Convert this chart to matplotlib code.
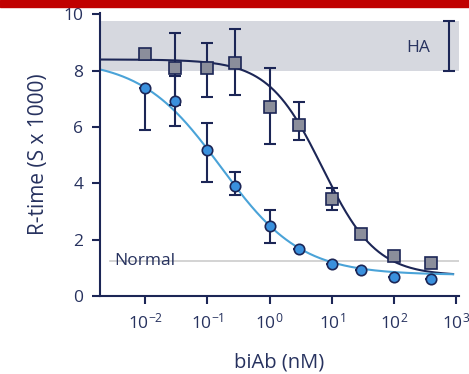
import numpy as np
import matplotlib
matplotlib.use("Agg")
import matplotlib.pyplot as plt
from matplotlib.patches import Rectangle

plt.rcParams['font.family'] = ['Open Sans', 'DejaVu Sans']

# ---- data ----
conc_sq = [0.01, 0.03, 0.1, 0.28, 1.0, 3.0, 10.0, 30.0, 100.0, 400.0]
rtime_sq = [8.61, 8.08, 8.08, 8.29, 6.7, 6.08, 3.45, 2.2, 1.42, 1.17]
err_sq_lo = [0.0, 1.28, 1.0, 1.14, 1.3, 0.55, 0.4, 0.0, 0.0, 0.0]
err_sq_hi = [0.0, 1.27, 0.92, 1.2, 1.4, 0.8, 0.37, 0.0, 0.0, 0.0]

conc_ci = [0.01, 0.03, 0.1, 0.28, 1.0, 3.0, 10.0, 30.0, 100.0, 400.0]
rtime_ci = [7.4, 6.93, 5.18, 3.9, 2.47, 1.68, 1.14, 0.93, 0.69, 0.61]
err_ci_lo = [1.5, 0.9, 1.12, 0.33, 0.6, 0.0, 0.0, 0.0, 0.0, 0.0]
err_ci_hi = [0.0, 0.9, 0.95, 0.5, 0.57, 0.0, 0.0, 0.0, 0.0, 0.0]

# 4-parameter logistic fit parameters (top, bottom, EC50, hill)
fit_sq = (8.4, 0.72, 7.07, 1.0)
fit_ci = (8.4, 0.75, 0.165, 0.675)

ha_range = (8.0, 9.75)
normal_level = 1.25

xticks = [1e-2, 1e-1, 1e0, 1e1, 1e2, 1e3]
yticks = [0, 2, 4, 6, 8, 10]

navy = '#1c2656'
txt = '#27325f'

fig = plt.figure(figsize=(4.69, 3.74), dpi=100)
fig.patches.append(Rectangle((0, 1 - 7/374), 1, 7/374, transform=fig.transFigure,
                             color='#c00000', zorder=10))
ax = fig.add_axes([100/469, 1 - 296/374, 359/469, 283/374])

xmin, xmax = 10**-2.73, 10**3.05
ax.set_xscale('log')
ax.set_xlim(xmin, xmax)
ax.set_ylim(0, 10.05)

# HA band
ax.axhspan(ha_range[0], ha_range[1], color='#d6d8df', zorder=0, lw=0)
ax.errorbar([770], [(ha_range[0] + ha_range[1]) / 2],
            yerr=[[(ha_range[1] - ha_range[0]) / 2]], fmt='none',
            ecolor=navy, elinewidth=1.5, capsize=4, capthick=1.5, zorder=2)
ax.text(10**2.40, 8.82, 'HA', color=txt, fontsize=12.5, ha='center', va='center')

# Normal line
ax.axhline(normal_level, xmin=0.028, xmax=1, color='#cccccc', lw=1.2, zorder=1)
ax.text(10**-2.5, normal_level, 'Normal', color=txt, fontsize=12.5, ha='left', va='center', zorder=1.5)

# fit curves
def fourpl(x, p):
    top, bot, ec50, h = p
    return bot + (top - bot) / (1 + (x / ec50) ** h)

xs = np.logspace(np.log10(xmin), np.log10(900), 400)
ax.plot(xs, fourpl(xs, fit_sq), color=navy, lw=1.5, zorder=2)
ax.plot(xs, fourpl(xs, fit_ci), color='#4aa3d8', lw=1.5, zorder=2)

# error bars
ax.errorbar(conc_ci, rtime_ci, yerr=[err_ci_lo, err_ci_hi], fmt='none',
            ecolor=navy, elinewidth=1.5, capsize=4, capthick=1.5, zorder=2.5)
ax.errorbar(conc_sq, rtime_sq, yerr=[err_sq_lo, err_sq_hi], fmt='none',
            ecolor=navy, elinewidth=1.5, capsize=4, capthick=1.5, zorder=2.5)

# markers
ax.plot(conc_sq, rtime_sq, 's', ms=8, mfc='#8b8e9b', mec=navy, mew=1.2, zorder=3)
ax.plot(conc_ci, rtime_ci, 'o', ms=7.5, mfc='#3a90dd', mec=navy, mew=1.2, zorder=3.5)

# axes styling
for s in ['top', 'right']:
    ax.spines[s].set_visible(False)
for s in ['left', 'bottom']:
    ax.spines[s].set_color(navy)
    ax.spines[s].set_linewidth(1.5)
ax.set_xticks(xticks)
ax.xaxis.set_minor_locator(matplotlib.ticker.NullLocator())
ax.set_yticks(yticks)
ax.tick_params(axis='both', colors=navy, labelcolor=txt, labelsize=12.5,
               length=6, width=1.5, direction='out')
ax.tick_params(axis='x', pad=6)
ax.tick_params(axis='y', pad=6)

ax.set_xlabel('biAb (nM)', color=txt, fontsize=14.5, labelpad=14)
ax.set_ylabel('R-time (S x 1000)', color=txt, fontsize=15, labelpad=10)

fig.savefig('out.png', dpi=100, facecolor='white')
